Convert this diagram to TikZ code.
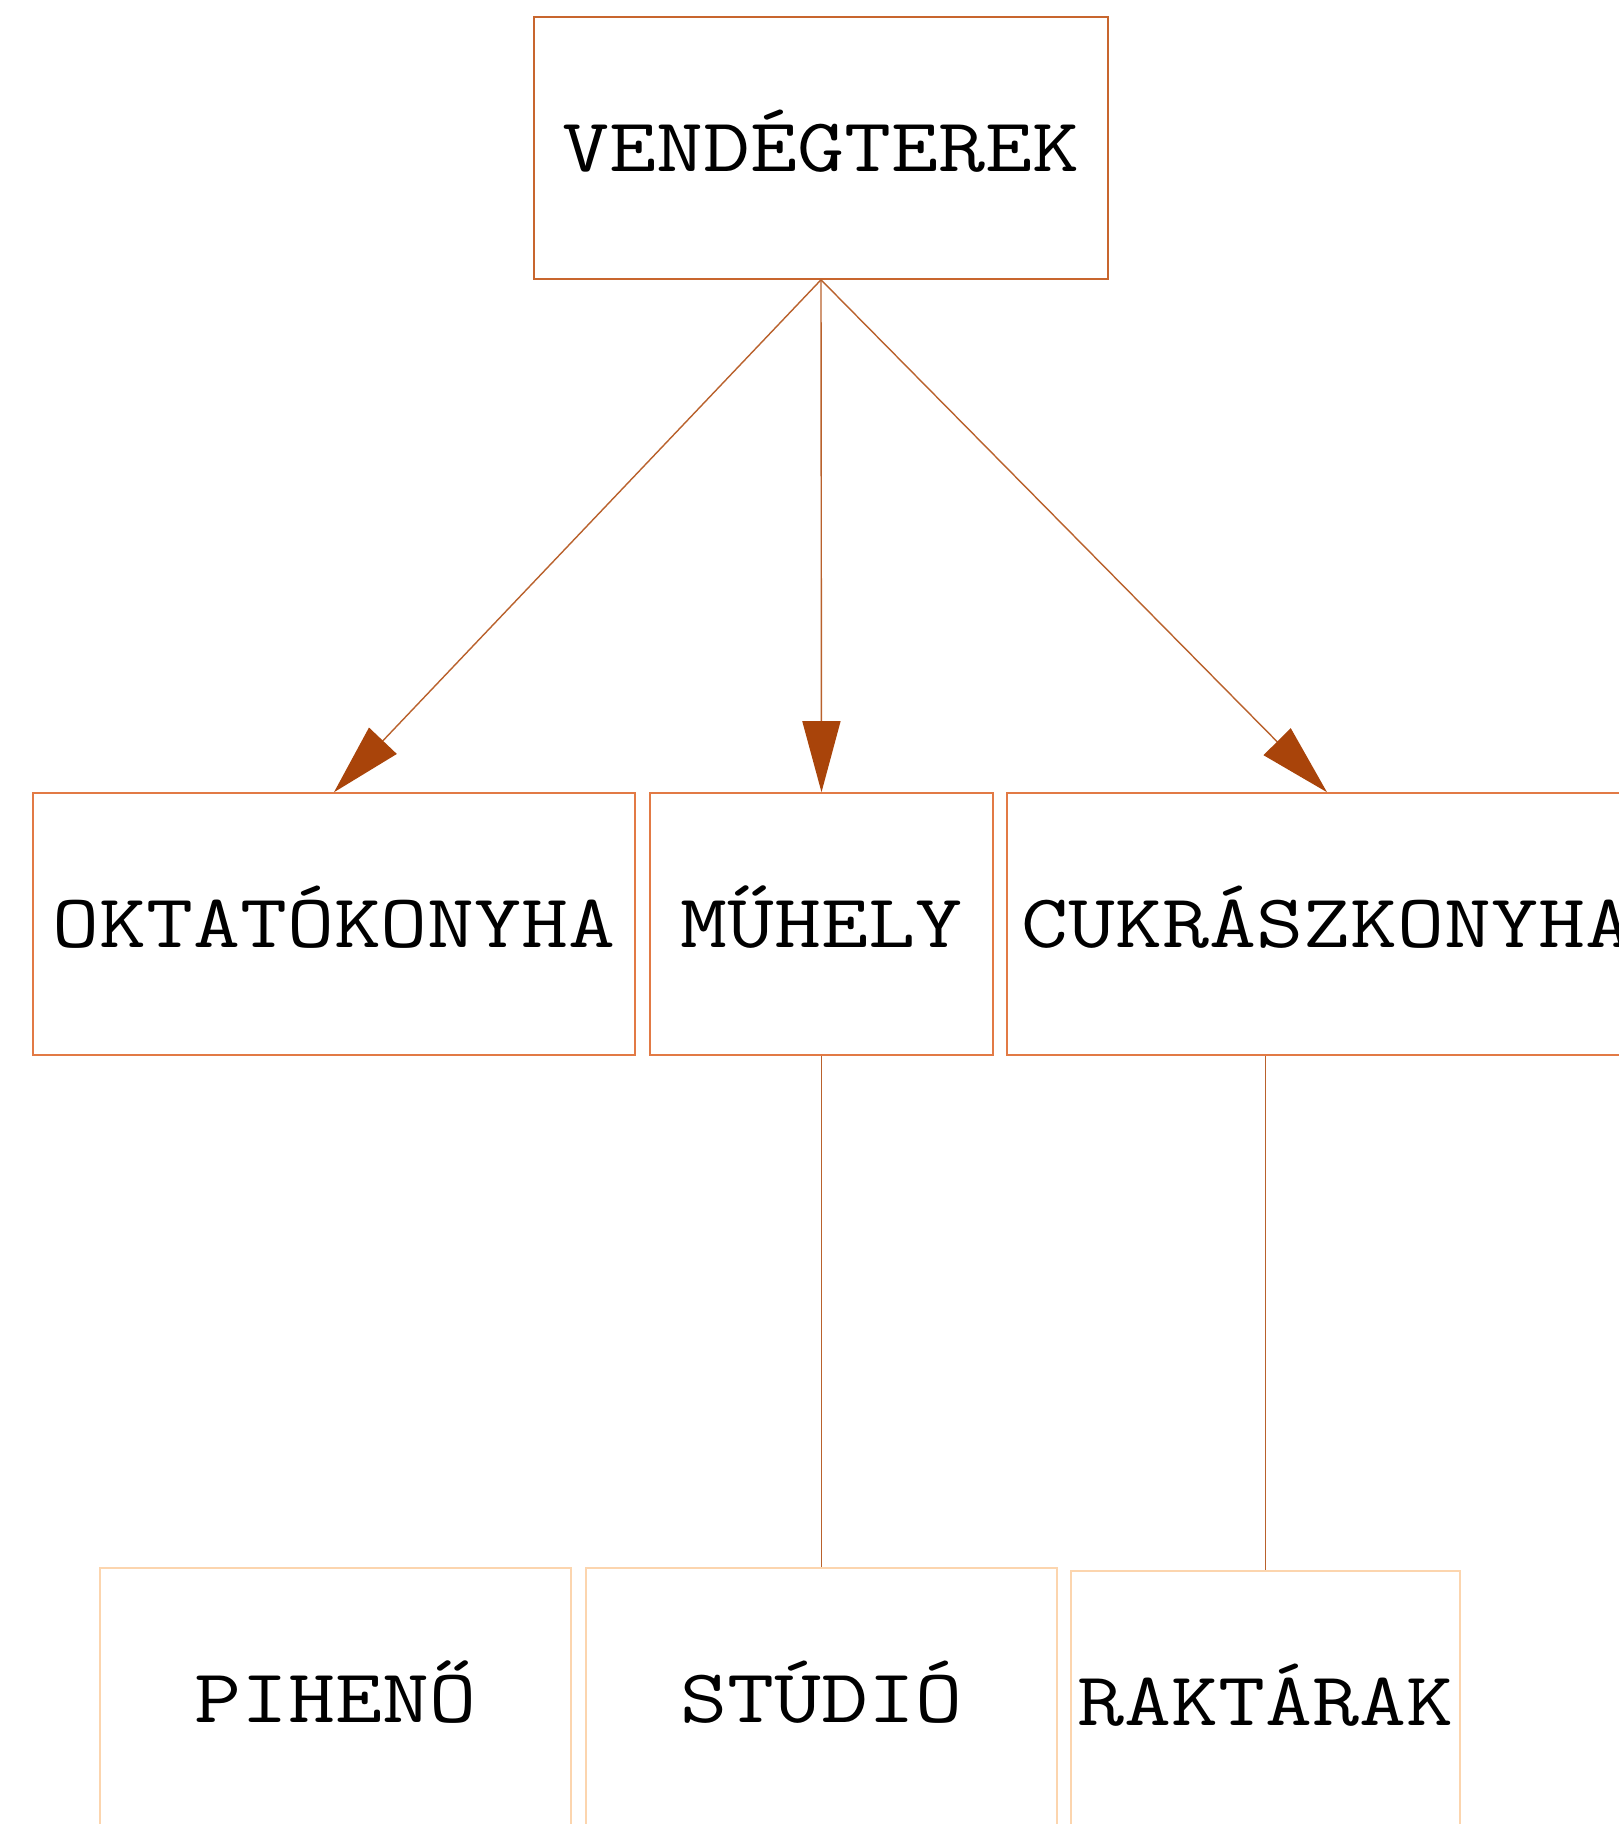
\documentclass[tikz,border=0pt]{standalone}
\usepackage{fontspec}
\newfontfamily\boxfont[FakeStretch=1.2]{Latin Modern Mono}
\usetikzlibrary{arrows.meta}
\definecolor{topborder}{HTML}{C8662E}
\definecolor{midborder}{HTML}{E27A45}
\definecolor{lowborder}{HTML}{FCD5AE}
\definecolor{edgecol}{HTML}{B9612C}
\definecolor{tipcol}{HTML}{A9440A}
\tikzset{
  roombox/.style={draw, rectangle, line width=1.6pt, inner sep=0pt,
    minimum height=262pt, text height=46.4pt, text depth=0pt,
    font=\boxfont\fontsize{76}{80}\selectfont, text=black},
  topbox/.style={roombox, draw=topborder},
  midbox/.style={roombox, draw=midborder},
  lowbox/.style={roombox, draw=lowborder, line width=2pt},
  link/.style={draw=edgecol, line width=1.4pt},
  arrowlink/.style={link, -{Triangle[length=71pt,width=38pt,fill=tipcol,color=tipcol]}},
}
\begin{document}
\begin{tikzpicture}[x=1pt,y=-1pt]
\useasboundingbox (0,0) rectangle (1619,1824);
\fill[white] (0,0) rectangle (1619,1824);
\node[topbox, minimum width=574pt] (ven) at (821,148) {VENDÉGTEREK};
\node[midbox, minimum width=602pt] (okt) at (334,924) {OKTATÓKONYHA};
\node[midbox, minimum width=343pt] (muh) at (821.5,924) {MŰHELY};
\node[midbox, minimum width=640pt] (cuk) at (1327,924) {CUKRÁSZKONYHA};
\node[lowbox, minimum width=471pt] (pih) at (335.5,1699) {PIHENŐ};
\node[lowbox, minimum width=471pt] (stu) at (821.5,1699) {STÚDIÓ};
\node[lowbox, minimum width=389pt] (rak) at (1265.5,1702) {RAKTÁRAK};
\draw[arrowlink] (ven.south) -- (okt.north);
\draw[arrowlink] (ven.south) -- (muh.north);
\draw[arrowlink] (ven.south) -- (cuk.north);
\draw[link] (muh.south) -- (stu.north);
\draw[link] (cuk.south -| rak.north) -- (rak.north);
\end{tikzpicture}
\end{document}
